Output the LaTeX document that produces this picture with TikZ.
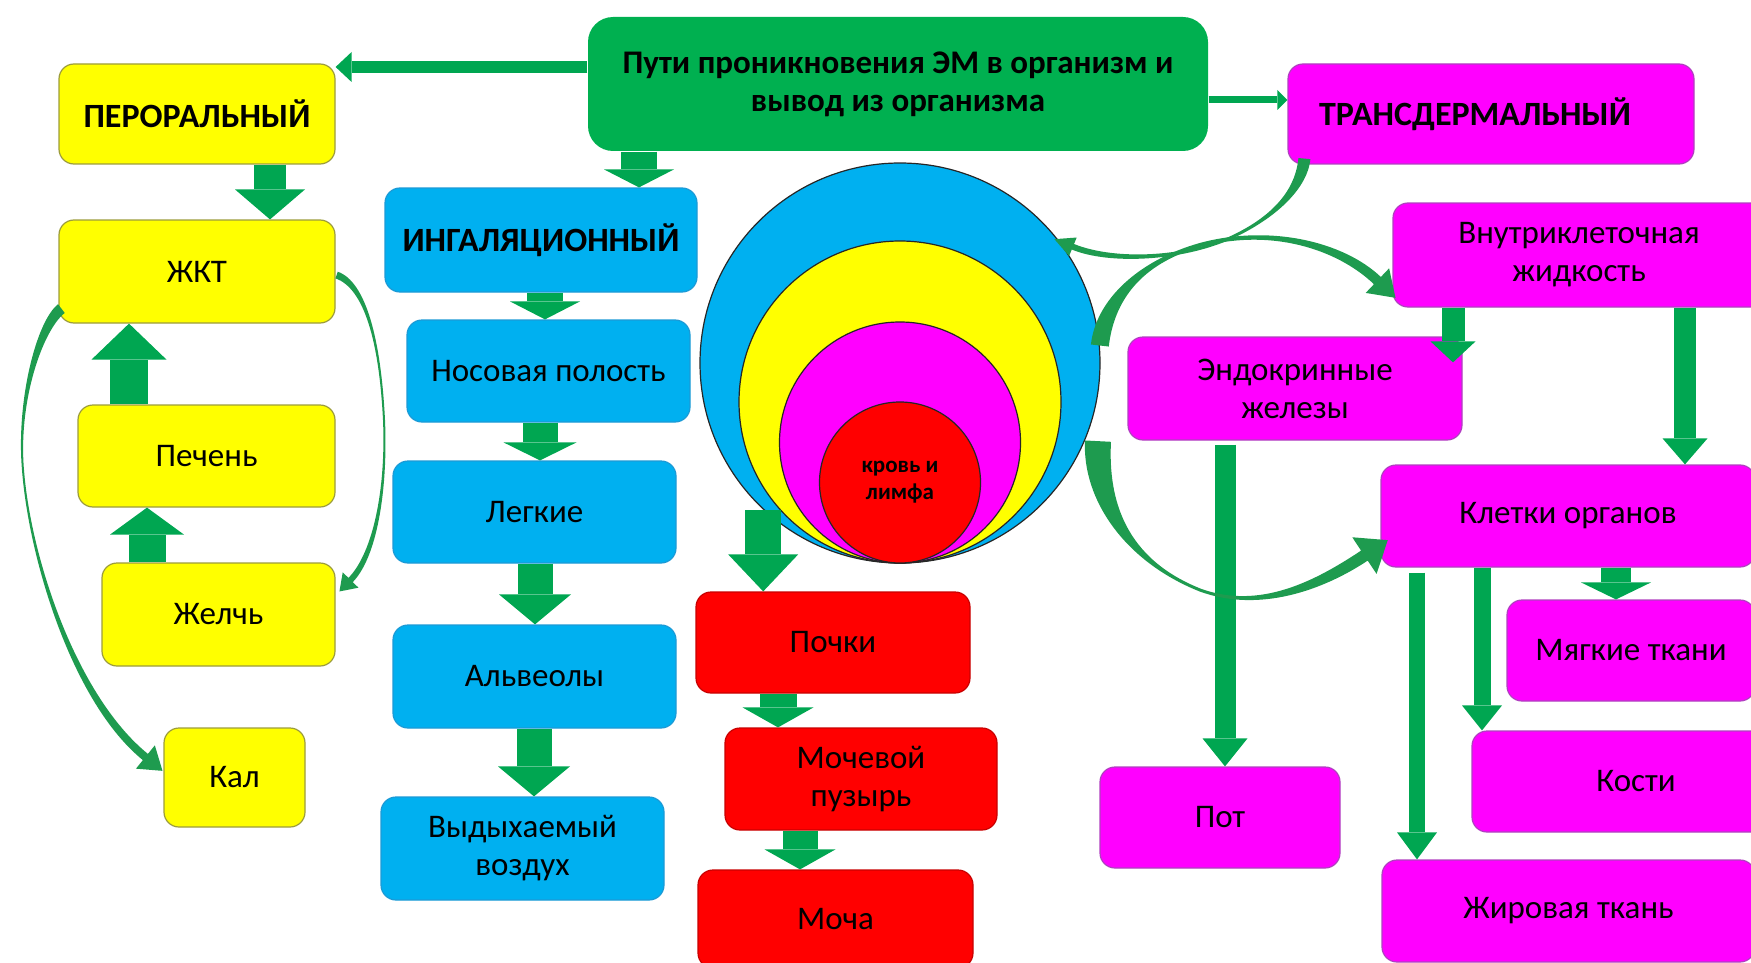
\documentclass[tikz,border=0pt]{standalone}
\usepackage{fontspec}
\setmainfont{Carlito}
\usetikzlibrary{arrows.meta,calc}
\definecolor{cgreen}{HTML}{1E9B4F}
\definecolor{agreen}{HTML}{00A651}
\definecolor{tgreen}{HTML}{00B050}
\definecolor{cblue}{HTML}{00B0F0}
\definecolor{cyell}{HTML}{FFFF00}
\definecolor{cmag}{HTML}{FF00FF}
\definecolor{cred}{HTML}{FF0000}
\definecolor{ybord}{HTML}{9C9C3C}
\definecolor{bbord}{HTML}{1C9AD6}
\definecolor{mbord}{HTML}{B040C0}
\definecolor{rbord}{HTML}{C80000}
% name, x1, y1, x2, y2, style, text
\newcommand\mkbox[7]{%
  \pgfmathsetmacro\mkW{(#4-#2)/2}%
  \pgfmathsetmacro\mkH{(#5-#3)/2}%
  \pgfmathsetmacro\mkX{(#2+#4)/2}%
  \pgfmathsetmacro\mkY{(#3+#5)/2}%
  \node[#6, minimum width=\mkW pt, minimum height=\mkH pt] (#1) at (\mkX,\mkY) {#7};}
% tapered curved arrow through coordinates tS,tA,tB,tM,tC,tD,tE
% args: half width start, middle, end, head half width, head length
\newcommand\taperfill[5]{%
  \fill[cgreen] ($(tS)!#1!90:(tA)$) .. controls ($(tA)!#1!-90:(tS)$) and ($(tB)!#2!90:(tM)$) .. ($(tM)!#2!-90:(tB)$)
   -- ($(tM)!#2!90:(tC)$) .. controls ($(tC)!#2!-90:(tM)$) and ($(tD)!#3!90:(tE)$) .. ($(tE)!#3!-90:(tD)$)
   -- ($(tE)!#4!-90:(tD)$) -- ($(tE)!-#5!(tD)$) -- ($(tE)!#4!90:(tD)$)
   -- ($(tE)!#3!90:(tD)$) .. controls ($(tD)!#3!-90:(tE)$) and ($(tC)!#2!90:(tM)$) .. ($(tM)!#2!-90:(tC)$)
   -- ($(tM)!#2!90:(tB)$) .. controls ($(tB)!#2!-90:(tM)$) and ($(tA)!#1!90:(tS)$) .. ($(tS)!#1!-90:(tA)$) -- cycle;}
\begin{document}
\begin{tikzpicture}[x=0.5pt,y=-0.5pt,
  lbl/.style={font=\fontsize{16.5}{19}\selectfont},
  box/.style={rectangle, rounded corners=7.5pt, inner sep=0pt, align=center, line width=0.6pt, lbl},
  ybox/.style={box, fill=cyell, draw=ybord},
  bbox/.style={box, fill=cblue, draw=bbord},
  mbox/.style={box, fill=cmag, draw=mbord},
  rbox/.style={box, fill=cred, draw=rbord},
  hdr/.style={font=\bfseries\fontsize{17}{19}\selectfont},
  tbox/.style={box, fill=tgreen, draw=none, rounded corners=12.5pt, font=\bfseries\fontsize{16.5}{19}\selectfont},
  blk/.style n args={3}{draw=agreen, line width=#1, -{Triangle[width=#2,length=#3,line width=0pt]}},
  ring/.style={circle, inner sep=0pt, draw=black!85, line width=0.6pt},
]
\useasboundingbox (0,0) rectangle (1751,963);

% ---- boxes ----
\mkbox{title}{588}{17}{1208}{151}{tbox}{Пути проникновения ЭМ в организм и\\вывод из организма}
\mkbox{per}{59}{64}{335}{164}{ybox,hdr}{ПЕРОРАЛЬНЫЙ}
\mkbox{trans}{1288}{64}{1694}{164}{mbox,hdr}{ТРАНСДЕРМАЛЬНЫЙ\hspace*{16pt}}
\mkbox{zhkt}{59}{220}{335}{323}{ybox}{ЖКТ}
\mkbox{pech}{78}{405}{335}{507}{ybox}{Печень}
\mkbox{zhelch}{102}{563}{335}{666}{ybox}{Желчь}
\mkbox{kal}{164}{728}{305}{827}{ybox}{Кал}
\mkbox{ing}{385}{188}{697}{292}{bbox,hdr}{ИНГАЛЯЦИОННЫЙ}
\mkbox{nos}{407}{320}{690}{422}{bbox}{Носовая полость}
\mkbox{leg}{393}{461}{676}{563}{bbox}{Легкие}
\mkbox{alv}{393}{625}{676}{728}{bbox}{Альвеолы}
\mkbox{vyd}{381}{797}{664}{900}{bbox}{Выдыхаемый\\воздух}
\mkbox{pochki}{696}{592}{970}{693}{rbox}{Почки}
\mkbox{moch}{725}{728}{997}{830}{rbox}{Мочевой\\пузырь}
\mkbox{mocha}{698}{870}{973}{968}{rbox}{Моча}
\mkbox{vnutr}{1393}{203}{1765}{307}{mbox}{Внутриклеточная\\жидкость}
\mkbox{endo}{1128}{337}{1462}{440}{mbox}{Эндокринные\\железы}
\mkbox{klet}{1381}{465}{1755}{567}{mbox}{Клетки органов}
\mkbox{myag}{1507}{600}{1755}{701}{mbox}{Мягкие ткани}
\mkbox{kost}{1472}{731}{1800}{832}{mbox}{Кости}
\mkbox{zhir}{1382}{860}{1755}{962}{mbox}{Жировая ткань}
\mkbox{pot}{1100}{767}{1340}{868}{mbox}{Пот}

% ---- circles ----
\node[ring, fill=cblue, minimum size=200pt] (outer) at (900,363) {};
\node[ring, fill=cyell, minimum size=161pt] (yring) at (900,402) {};
\node[ring, fill=cmag, minimum size=120.5pt] (mring) at (900,442.5) {};
\node[ring, fill=cred, minimum size=80.5pt, align=center, font=\bfseries\fontsize{11.5}{13.5}\selectfont] (blood) at (900,482.5) {кровь и\\лимфа};

% ---- straight arrows ----
\draw[agreen, line width=6pt, -{Triangle[width=15pt,length=8pt,line width=0pt]}] (title.west |- 0,67) -- (per.east |- 0,67);
\draw[agreen, line width=3.5pt, -{Triangle[width=10pt,length=5pt,line width=0pt]}] (title.east |- 0,100) -- (trans.west |- 0,100);

% ---- block arrows ----
\draw[blk={16pt}{35pt}{15pt}] (270,0 |- per.south) -- (270,0 |- zhkt.north);
\draw[blk={19pt}{37.5pt}{18pt}] (129,0 |- pech.north) -- (129,0 |- zhkt.south);
\draw[blk={18.5pt}{37pt}{13.5pt}] (147,0 |- zhelch.north) -- (147,0 |- pech.south);
\draw[blk={18pt}{35pt}{9pt}] (639,0 |- title.south) -- (639,0 |- ing.north);
\draw[blk={18pt}{35pt}{9pt}] (545,0 |- ing.south) -- (545,0 |- nos.north);
\draw[blk={17.5pt}{36.5pt}{9pt}] (540,0 |- nos.south) -- (540,0 |- leg.north);
\draw[blk={17.5pt}{36pt}{15pt}] (535,0 |- leg.south) -- (535,0 |- alv.north);
\draw[blk={17.5pt}{36pt}{15pt}] (534,0 |- alv.south) -- (534,0 |- vyd.north);
\draw[blk={18pt}{35pt}{18.5pt}] (outer.227) -- (outer.227 |- pochki.north);
\draw[blk={18.5pt}{35.5pt}{10pt}] (778,0 |- pochki.south) -- (778,0 |- moch.north);
\draw[blk={17.5pt}{35.5pt}{10pt}] (800,0 |- moch.south) -- (800,0 |- mocha.north);
\draw[blk={11.5pt}{22.5pt}{10.5pt}] (1453,0 |- vnutr.south) -- ($(1453,0 |- endo.north)+(0,26)$);
\draw[blk={11pt}{22.5pt}{13pt}] (1685,0 |- vnutr.south) -- (1685,0 |- klet.north);
\draw[blk={10.5pt}{22.5pt}{14pt}] ($(1225,0 |- endo.south)+(0,4)$) -- (1225,0 |- pot.north);
\draw[blk={8pt}{20pt}{13.5pt}] ($(1417,0 |- klet.south)+(0,5)$) -- (1417,0 |- zhir.north);
\draw[blk={8.5pt}{20pt}{12.5pt}] (1482,0 |- klet.south) -- (1482,0 |- kost.north);
\draw[blk={15pt}{35pt}{8.5pt}] (1616,0 |- klet.south) -- (1616,0 |- myag.north);

% ---- curved arrows ----
% ZhKT -> Kal
\coordinate (tS) at ($(zhkt.south west)+(3,-15)$);
\coordinate (tA) at (40,325);
\coordinate (tB) at (17,400);
\coordinate (tM) at (23,470);
\coordinate (tC) at (30,560);
\coordinate (tD) at (75,700);
\coordinate (tE) at ($(kal.west)+(-18,-20.5)$);
\taperfill{2.75pt}{0.5pt}{2pt}{7.5pt}{11pt}
% ZhKT -> Zhelch
\coordinate (tS) at ($(zhkt.east)+(1,3.5)$);
\coordinate (tA) at (365,285);
\coordinate (tB) at (380,340);
\coordinate (tM) at (384,420);
\coordinate (tC) at (387,490);
\coordinate (tD) at (375,555);
\coordinate (tE) at ($(zhelch.east)+(15,-34.5)$);
\taperfill{1.75pt}{0.5pt}{1.5pt}{5.5pt}{8pt}
% Trans -> circle
\coordinate (tS) at ($(trans.south west)+(17,-6)$);
\coordinate (tA) at (1302,185);
\coordinate (tB) at (1280,215);
\coordinate (tM) at (1230,238);
\coordinate (tC) at (1180,260);
\coordinate (tD) at (1110,262);
\coordinate (tE) at ($(outer.39)+(17,10)$);
\taperfill{3pt}{0.75pt}{1.5pt}{5pt}{10pt}
% circle -> Vnutr
\coordinate (tS) at (outer.5);
\coordinate (tA) at (1105,300);
\coordinate (tB) at (1140,262);
\coordinate (tM) at (1200,245);
\coordinate (tC) at (1270,226);
\coordinate (tD) at (1340,245);
\coordinate (tE) at ($(vnutr.south west)+(-15,-27)$);
\taperfill{4.5pt}{1pt}{2.5pt}{8.5pt}{12.5pt}
% circle -> Kletki
\coordinate (tS) at ($(outer.-22)+(12,3)$);
\coordinate (tA) at (1095,500);
\coordinate (tB) at (1125,560);
\coordinate (tM) at (1200,590);
\coordinate (tC) at (1260,612);
\coordinate (tD) at (1320,585);
\coordinate (tE) at ($(klet.south west)+(-16,-12)$);
\taperfill{6.5pt}{0.75pt}{3pt}{11pt}{14pt}
\end{tikzpicture}
\end{document}
